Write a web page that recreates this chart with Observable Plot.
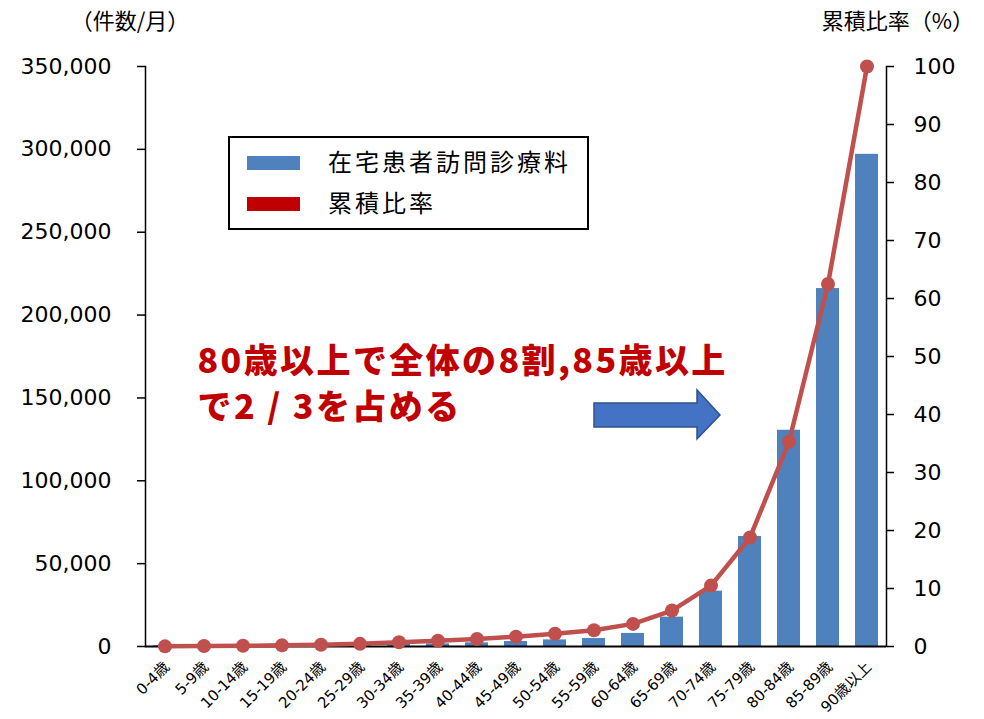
<!DOCTYPE html>
<html>
<head>
<meta charset="utf-8">
<script src="https://cdn.jsdelivr.net/npm/d3@7"></script>
<script src="https://cdn.jsdelivr.net/npm/@observablehq/plot@0.6"></script>
<style>
  body { margin: 0; background: #fff; }
  #chart { width: 984px; height: 719px; }
</style>
</head>
<body>
<div id="chart"></div>
<script>
// Age groups (5-year bands)
const ageGroups = [
  "0-4歳", "5-9歳", "10-14歳", "15-19歳", "20-24歳", "25-29歳", "30-34歳",
  "35-39歳", "40-44歳", "45-49歳", "50-54歳", "55-59歳", "60-64歳", "65-69歳",
  "70-74歳", "75-79歳", "80-84歳", "85-89歳", "90歳以上"
];

// Home-visit medical care claims per month
const visits = [
  500, 200, 300, 300, 400, 800, 1200,
  1600, 2200, 3000, 4000, 4800, 7900, 17700,
  33400, 66400, 130500, 216000, 297000
];

// Cumulative share (%)
const cumulativeShare = [
  0.03, 0.08, 0.12, 0.2, 0.3, 0.46, 0.74,
  1.0, 1.3, 1.7, 2.2, 2.8, 3.9, 6.2,
  10.5, 18.8, 35.3, 62.5, 100
];

const countTicks = [0, 50000, 100000, 150000, 200000, 250000, 300000, 350000];
const shareTicks = [0, 10, 20, 30, 40, 50, 60, 70, 80, 90, 100];

const seriesNames = ["在宅患者訪問診療料", "累積比率"];
const leftAxisTitle = "（件数/月）";
const rightAxisTitle = "累積比率（%）";
const calloutLines = ["80歳以上で全体の8割,85歳以上", "で2 / 3を占める"];

const countMax = 350000;
const shareMax = 100;
const toCount = p => p / shareMax * countMax;

const rows = ageGroups.map((age, i) => ({
  age, visits: visits[i], share: cumulativeShare[i]
}));

const barColor = "#4F81BD";
const lineColor = "#C0504D";
const legendRed = "#C00000";
const numFont = "'DejaVu Sans', 'Noto Sans CJK JP', sans-serif";
const jpFont = "'Noto Sans CJK JP', sans-serif";

const calloutStyle = {
  frameAnchor: "top-left", dx: 52, textAnchor: "start", lineAnchor: "top",
  fontSize: 34, fontWeight: 900, fill: legendRed, fontFamily: jpFont
};

const chart = Plot.plot({
  width: 984,
  height: 719,
  marginLeft: 145,
  marginRight: 98,
  marginTop: 66,
  marginBottom: 73,
  style: { fontFamily: numFont, background: "#fff", color: "#000", overflow: "visible" },
  x: { type: "band", domain: ageGroups, paddingInner: 0.4, paddingOuter: 0.2 },
  y: { domain: [0, countMax] },
  marks: [
    Plot.barY(rows, { x: "age", y: "visits", fill: barColor }),
    Plot.frame({ anchor: "left", stroke: "#000", strokeWidth: 1.5 }),
    Plot.frame({ anchor: "right", stroke: "#000", strokeWidth: 1.5 }),
    Plot.ruleY([0], { stroke: "#000", strokeWidth: 2 }),
    Plot.axisY(countTicks, {
      anchor: "left", tickSize: 8, tickPadding: 26, fontSize: 22,
      tickFormat: d3.format(","), label: null, strokeWidth: 1.5
    }),
    Plot.axisY(shareTicks.map(toCount), {
      anchor: "right", tickSize: 7, tickPadding: 20, fontSize: 22,
      tickFormat: d => Math.round(d / countMax * shareMax), label: null, strokeWidth: 1.5
    }),
    Plot.axisX({
      anchor: "bottom", tickSize: 0, tickPadding: 18, tickRotate: -45,
      fontSize: 15, label: null, dx: 2
    }),
    Plot.line(rows, { x: "age", y: d => toCount(d.share), stroke: lineColor, strokeWidth: 4.5 }),
    Plot.dot(rows, { x: "age", y: d => toCount(d.share), r: 7, fill: lineColor }),
    Plot.text([calloutLines[0]], { ...calloutStyle, dy: 282 }),
    Plot.text([calloutLines[1]], { ...calloutStyle, dy: 328 })
  ]
});

const svg = d3.select(chart);

// Widen the callout glyph spacing
svg.selectAll("text")
  .filter(function () { return calloutLines.includes(this.textContent); })
  .style("letter-spacing", "2.4px");

// Axis titles
svg.append("text")
  .attr("x", 130).attr("y", 23)
  .attr("text-anchor", "middle").attr("dominant-baseline", "middle")
  .style("font-family", jpFont).style("font-size", "22px").attr("fill", "#000")
  .text(leftAxisTitle);
svg.append("text")
  .attr("x", 898).attr("y", 23)
  .attr("text-anchor", "middle").attr("dominant-baseline", "middle")
  .style("font-family", jpFont).style("font-size", "22px").attr("fill", "#000")
  .text(rightAxisTitle);

// Legend box
const legend = svg.append("g");
legend.append("rect")
  .attr("x", 229).attr("y", 137).attr("width", 359).attr("height", 92)
  .attr("fill", "#fff").attr("stroke", "#000").attr("stroke-width", 2);
[barColor, legendRed].forEach((c, i) => {
  legend.append("rect")
    .attr("x", 247).attr("y", 156 + i * 41).attr("width", 53).attr("height", 14)
    .attr("fill", c);
  legend.append("text")
    .attr("x", 328).attr("y", 164 + i * 41)
    .attr("text-anchor", "start")
    .attr("dominant-baseline", "middle")
    .style("font-family", jpFont).style("font-size", "24px")
    .style("letter-spacing", "3px").attr("fill", "#000")
    .text(seriesNames[i]);
});

// Block arrow pointing toward the oldest age groups
const arrow = [[594, 403], [697, 403], [697, 390], [720, 415], [697, 439], [697, 427], [594, 427]];
svg.append("polygon")
  .attr("points", arrow.map(p => p.join(",")).join(" "))
  .attr("fill", "#4472C4").attr("stroke", "#2F528F").attr("stroke-width", 1.5);

document.getElementById("chart").appendChild(chart);
</script>
</body>
</html>
